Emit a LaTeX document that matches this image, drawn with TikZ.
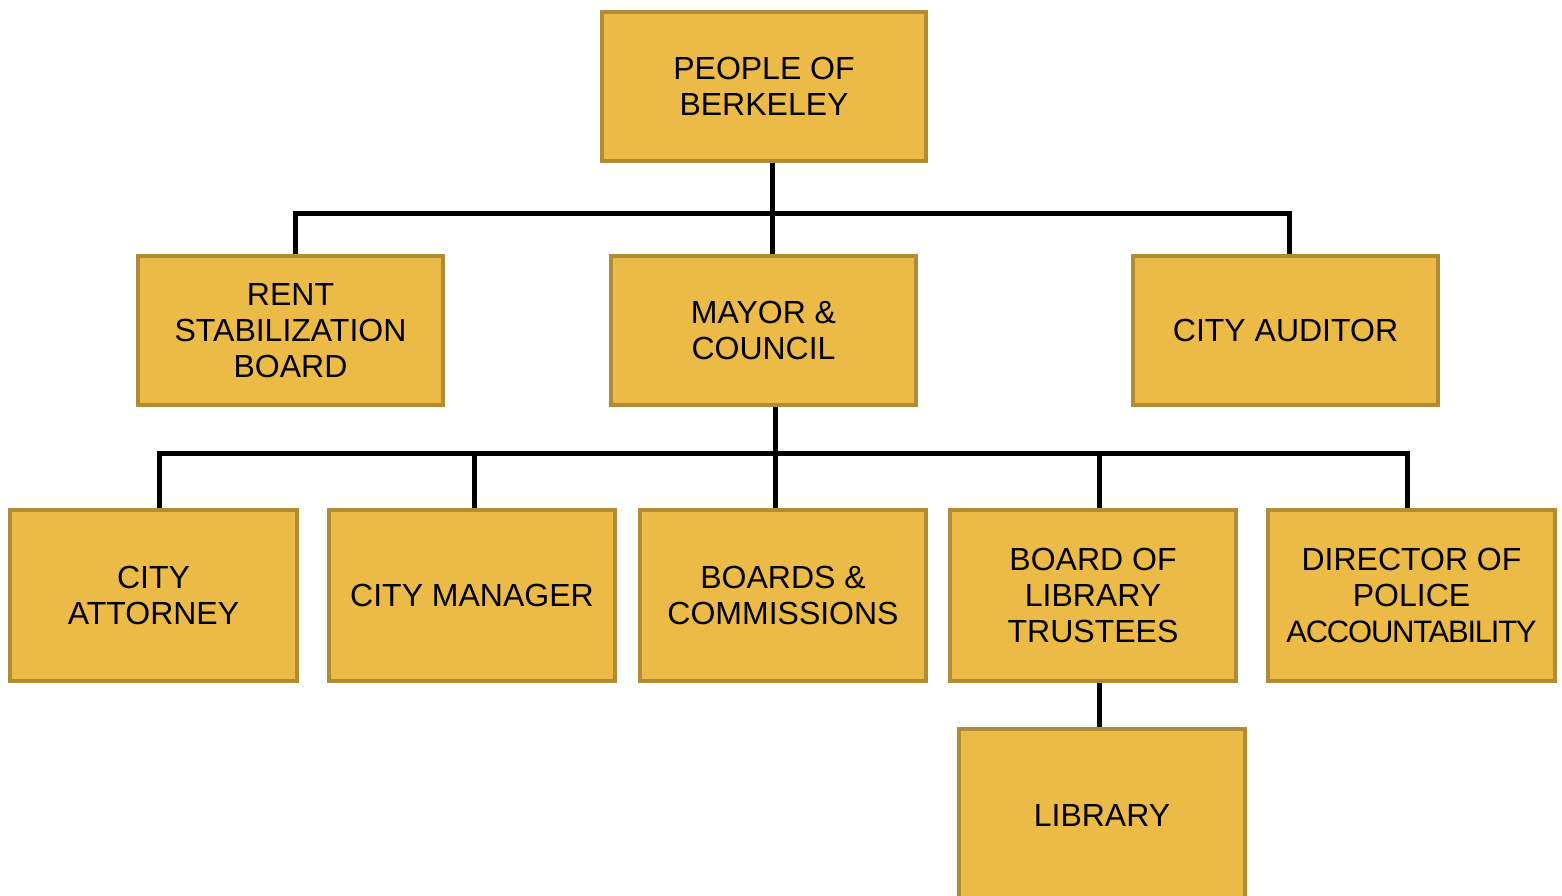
\documentclass[tikz,border=0pt]{standalone}
\usepackage{fontspec}
\setmainfont{Liberation Sans}
\definecolor{boxfill}{HTML}{ECBB47}
\definecolor{boxline}{HTML}{B08C37}
\begin{document}
\begin{tikzpicture}[x=1pt,y=-1pt,
  orgbox/.style={draw=boxline,fill=boxfill,line width=4pt,rectangle,inner sep=0pt,
    align=center,font=\fontsize{32}{36}\selectfont,text=black},
  conn/.style={draw=black,line width=5pt,line join=miter}]
\useasboundingbox (0,0) rectangle (1562,896);
\clip (0,0) rectangle (1562,896);
% top
\node[orgbox,minimum width=324pt,minimum height=149pt] (people) at (764,86.5) {PEOPLE OF\\BERKELEY};
% row 2
\node[orgbox,minimum width=305pt,minimum height=149pt] (rent) at (290.5,330.5) {RENT\\STABILIZATION\\BOARD};
\node[orgbox,minimum width=305pt,minimum height=149pt] (mayor) at (763.5,330.5) {MAYOR \&\\COUNCIL};
\node[orgbox,minimum width=305pt,minimum height=149pt] (auditor) at (1285.5,330.5) {CITY AUDITOR};
% row 3
\node[orgbox,minimum width=287pt,minimum height=171pt] (attorney) at (153.5,595.5) {CITY\\ATTORNEY};
\node[orgbox,minimum width=286pt,minimum height=171pt] (manager) at (472,595.5) {CITY MANAGER};
\node[orgbox,minimum width=286pt,minimum height=171pt] (boards) at (783,595.5) {BOARDS \&\\COMMISSIONS};
\node[orgbox,minimum width=286pt,minimum height=171pt] (libboard) at (1093,595.5) {BOARD OF\\LIBRARY\\TRUSTEES};
\node[orgbox,minimum width=287pt,minimum height=171pt] (police) at (1411.5,595.5) {DIRECTOR OF\\POLICE\\{\fontsize{31}{36}\selectfont\addfontfeature{LetterSpace=-4}ACCOUNTABILITY}};
% library
\node[orgbox,minimum width=286pt,minimum height=172pt] (library) at (1102,815) {LIBRARY};
% junctions
\coordinate (jtop) at (772,213);
\coordinate (jrent) at (295,213);
\coordinate (jaud) at (1289,213);
\coordinate (jmid) at (775,453);
\coordinate (jatt) at (159,453);
\coordinate (jman) at (474,453);
\coordinate (jlib) at (1099,453);
\coordinate (jpol) at (1407,453);
% connectors
\draw[conn] (jtop |- people.south) -- (jtop |- mayor.north);
\draw[conn] (jrent |- rent.north) -- (jrent) -- (jaud) -- (jaud |- auditor.north);
\draw[conn] (jmid |- mayor.south) -- (jmid |- boards.north);
\draw[conn] (jatt |- attorney.north) -- (jatt) -- (jpol) -- (jpol |- police.north);
\draw[conn] (jman) -- (jman |- manager.north);
\draw[conn] (jlib) -- (jlib |- libboard.north);
\draw[conn] (jlib |- libboard.south) -- (jlib |- library.north);
\end{tikzpicture}
\end{document}
